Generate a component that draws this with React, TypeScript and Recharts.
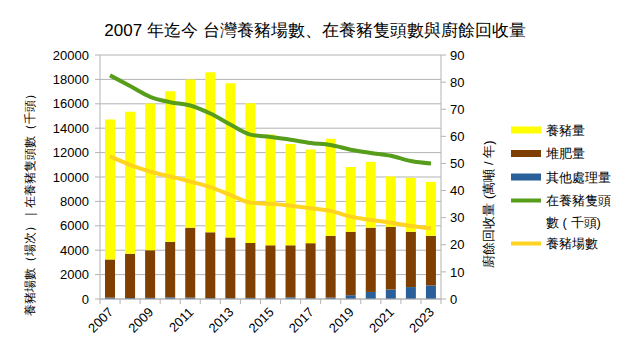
import {
  ComposedChart,
  Bar,
  Line,
  XAxis,
  YAxis,
  CartesianGrid,
} from "recharts";

const YEARS = [
  "2007", "2008", "2009", "2010", "2011", "2012", "2013", "2014", "2015",
  "2016", "2017", "2018", "2019", "2020", "2021", "2022", "2023",
];
// 廚餘回收量 (萬噸/年), stacked
const OTHER = [0.5, 0.4, 0.4, 0.6, 0.5, 0.3, 0.3, 0.4, 0.4, 0.6, 0.3, 0.5, 1.4, 2.6, 3.5, 4.4, 5.0];
const COMPOST = [14.1, 16.3, 17.6, 20.5, 25.8, 24.3, 22.4, 20.3, 19.4, 19.2, 20.3, 22.8, 23.4, 23.7, 23.1, 20.4, 18.3];
const FEED = [51.6, 52.4, 54.1, 55.5, 54.7, 59.0, 56.9, 51.5, 40.9, 37.4, 34.5, 35.8, 23.9, 24.3, 18.6, 19.9, 19.9];
// left axis
const PIGS = [18330, 17450, 16575, 16130, 15860, 15200, 14300, 13470, 13280, 13060, 12790, 12620, 12240, 11970, 11740, 11310, 11110];
const FARMS = [11690, 11000, 10450, 10040, 9630, 9170, 8530, 7900, 7800, 7650, 7440, 7220, 6750, 6480, 6250, 5980, 5790];

const LEFT_TICKS = [0, 2000, 4000, 6000, 8000, 10000, 12000, 14000, 16000, 18000, 20000];
const RIGHT_TICKS = [0, 10, 20, 30, 40, 50, 60, 70, 80, 90];

const YELLOW = "#ffff00";
const BROWN = "#7e3f00";
const BLUE = "#2a6099";
const GREEN = "#579d1c";
const ORANGE = "#ffd320";
const GRID = "#b3b3b3";
const FONT = "'Liberation Sans', Arial, sans-serif";

const W = 629;
const H = 353;
const MARGIN = { top: 55, right: 148, bottom: 24, left: 40 };
const PLOT_W = W - MARGIN.left - MARGIN.right - 60 - 40;
const BAND = PLOT_W / YEARS.length;

const data = YEARS.map((year, i) => ({
  year,
  other: OTHER[i],
  compost: COMPOST[i],
  feed: FEED[i],
  pigs: PIGS[i],
  farms: FARMS[i],
}));

function YearTick(props: any) {
  const { x, y, payload, index } = props;
  const half = BAND / 2;
  return (
    <g>
      <line x1={x - half} x2={x - half} y1={y} y2={y + 5} stroke={GRID} />
      {index === YEARS.length - 1 && (
        <line x1={x + half} x2={x + half} y1={y} y2={y + 5} stroke={GRID} />
      )}
      {index % 2 === 0 && (
        <text
          x={x + 4}
          y={y + 14}
          textAnchor="end"
          fontSize={13}
          fontFamily={FONT}
          fill="#000"
          transform={`rotate(-45, ${x + 4}, ${y + 14})`}
        >
          {payload.value}
        </text>
      )}
    </g>
  );
}

const LEGEND = [
  { kind: "bar", color: YELLOW, lines: ["養豬量"], y: 130 },
  { kind: "bar", color: BROWN, lines: ["堆肥量"], y: 153.5 },
  { kind: "bar", color: BLUE, lines: ["其他處理量"], y: 177 },
  { kind: "line", color: GREEN, lines: ["在養豬隻頭", "數 ( 千頭)"], y: 200.5 },
  { kind: "line", color: ORANGE, lines: ["養豬場數"], y: 243.5 },
];

export default function App() {
  return (
    <div style={{ position: "absolute", left: 0, top: 0, width: W, height: H, background: "#fff" }}>
      <ComposedChart width={W} height={H} data={data} margin={MARGIN}>
        <CartesianGrid yAxisId="left" vertical={false} stroke={GRID} />
        <XAxis
          dataKey="year"
          interval={0}
          height={30}
          tickSize={0}
          tickMargin={0}
          tickLine={false}
          axisLine={{ stroke: GRID }}
          tick={<YearTick />}
        />
        <YAxis
          yAxisId="left"
          width={60}
          domain={[0, 20000]}
          ticks={LEFT_TICKS}
          interval={0}
          tickSize={5}
          tickMargin={6}
          axisLine={{ stroke: GRID }}
          tickLine={{ stroke: GRID }}
          tick={{ fontSize: 13, fill: "#000", fontFamily: FONT }}
        />
        <YAxis
          yAxisId="right"
          orientation="right"
          width={40}
          domain={[0, 90]}
          ticks={RIGHT_TICKS}
          interval={0}
          tickSize={5}
          tickMargin={4}
          axisLine={{ stroke: GRID }}
          tickLine={{ stroke: GRID }}
          tick={{ fontSize: 13, fill: "#000", fontFamily: FONT }}
        />
        <Bar yAxisId="right" dataKey="other" stackId="s" fill={BLUE} barSize={10} isAnimationActive={false} />
        <Bar yAxisId="right" dataKey="compost" stackId="s" fill={BROWN} barSize={10} isAnimationActive={false} />
        <Bar yAxisId="right" dataKey="feed" stackId="s" fill={YELLOW} barSize={10} isAnimationActive={false} />
        <Line
          yAxisId="left"
          type="monotone"
          dataKey="pigs"
          stroke={GREEN}
          strokeWidth={4}
          dot={false}
          isAnimationActive={false}
        />
        <Line
          yAxisId="left"
          type="monotone"
          dataKey="farms"
          stroke={ORANGE}
          strokeWidth={4}
          dot={false}
          isAnimationActive={false}
        />
      </ComposedChart>
      <svg
        width={W}
        height={H}
        style={{ position: "absolute", left: 0, top: 0, pointerEvents: "none" }}
        fontFamily={FONT}
      >
        <text x={315} y={36} textAnchor="middle" fontSize={17} fill="#000">
          2007 年迄今 台灣養豬場數、在養豬隻頭數與廚餘回收量
        </text>
        <text
          x={30}
          y={201.5}
          textAnchor="middle"
          dominantBaseline="central"
          fontSize={11.5}
          fill="#000"
          transform="rotate(-90, 30, 201.5)"
        >
          養豬場數（場次）｜在養豬隻頭數（千頭）
        </text>
        <text
          x={488}
          y={204}
          textAnchor="middle"
          dominantBaseline="central"
          fontSize={13}
          fill="#000"
          transform="rotate(-90, 488, 204)"
        >
          廚餘回收量 (萬噸 / 年)
        </text>
        {LEGEND.map((item) => (
          <g key={item.lines[0]}>
            {item.kind === "bar" ? (
              <rect x={511} y={item.y - 3.5} width={30} height={7} fill={item.color} />
            ) : (
              <line x1={511} x2={541} y1={item.y} y2={item.y} stroke={item.color} strokeWidth={4} />
            )}
            {item.lines.map((t, j) => (
              <text key={t} x={546} y={item.y + j * 22} dominantBaseline="central" fontSize={13} fill="#000">
                {t}
              </text>
            ))}
          </g>
        ))}
      </svg>
    </div>
  );
}
